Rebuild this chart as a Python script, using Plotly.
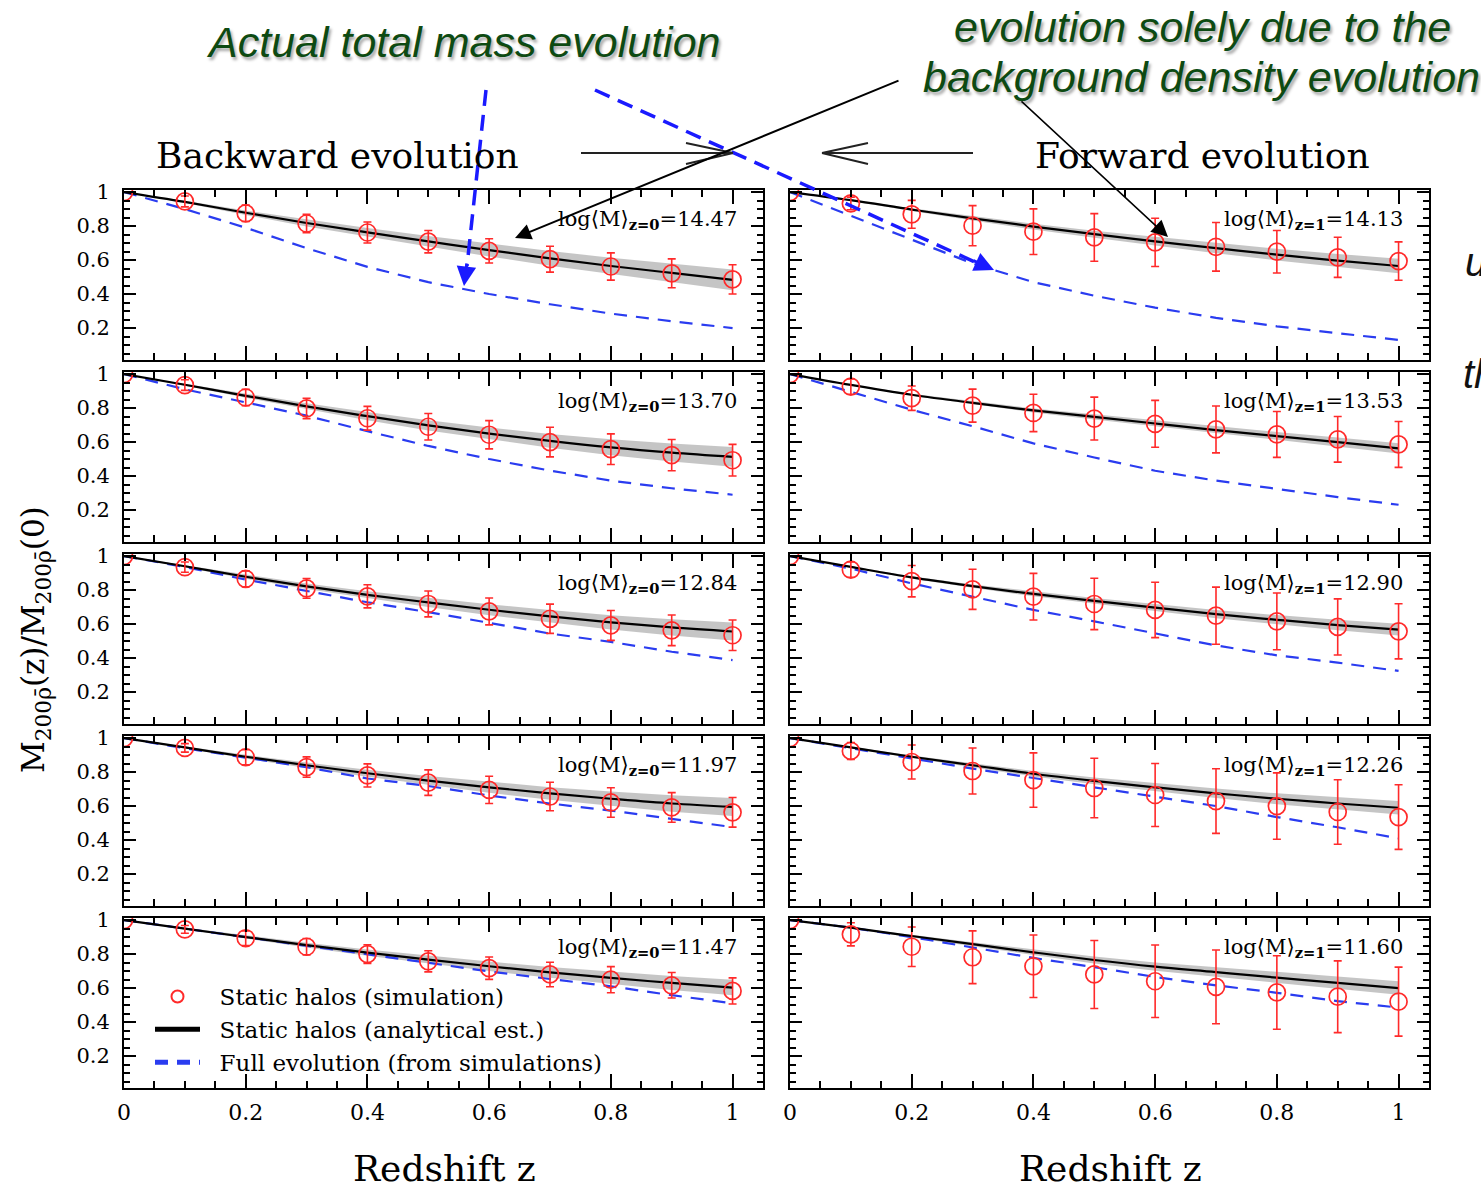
import plotly.graph_objects as go
from plotly.subplots import make_subplots

# ---------------- data ----------------
Z = [0, 0.1, 0.2, 0.3, 0.4, 0.5, 0.6, 0.7, 0.8, 0.9, 1.0]
X_MAJOR_STEP, X_MINOR_STEP = 0.2, 0.05
Y_MAJOR_STEP, Y_MINOR_STEP = 0.2, 0.05

# Backward evolution (left column), log<M>_{z=0}
bw_labels = ["14.47", "13.70", "12.84", "11.97", "11.47"]
bw1_sim = [1, 0.945, 0.875, 0.815, 0.762, 0.708, 0.654, 0.605, 0.562, 0.522, 0.486]
bw1_err = [0, 0.032, 0.048, 0.054, 0.062, 0.066, 0.071, 0.076, 0.080, 0.085, 0.086]
bw1_ana = [1, 0.942, 0.878, 0.818, 0.763, 0.710, 0.658, 0.610, 0.565, 0.524, 0.483]
bw1_band = [0, 0.007, 0.013, 0.020, 0.026, 0.031, 0.037, 0.043, 0.049, 0.055, 0.061]
bw1_full = [1, 0.90, 0.79, 0.67, 0.56, 0.47, 0.40, 0.34, 0.285, 0.24, 0.20]

bw2_sim = [1, 0.935, 0.862, 0.798, 0.740, 0.690, 0.643, 0.600, 0.558, 0.523, 0.493]
bw2_err = [0, 0.031, 0.048, 0.060, 0.070, 0.078, 0.083, 0.087, 0.090, 0.092, 0.093]
bw2_ana = [1, 0.937, 0.872, 0.810, 0.752, 0.698, 0.650, 0.607, 0.569, 0.538, 0.513]
bw2_band = [0, 0.006, 0.012, 0.018, 0.024, 0.030, 0.035, 0.041, 0.047, 0.053, 0.058]
bw2_full = [1, 0.91, 0.833, 0.755, 0.664, 0.577, 0.50, 0.432, 0.373, 0.328, 0.29]

bw3_sim = [1, 0.935, 0.866, 0.810, 0.763, 0.718, 0.674, 0.631, 0.592, 0.563, 0.534]
bw3_err = [0, 0.030, 0.047, 0.058, 0.068, 0.076, 0.079, 0.086, 0.088, 0.090, 0.090]
bw3_ana = [1, 0.940, 0.878, 0.822, 0.772, 0.727, 0.684, 0.645, 0.610, 0.580, 0.556]
bw3_band = [0, 0.005, 0.011, 0.016, 0.021, 0.027, 0.032, 0.037, 0.042, 0.048, 0.053]
bw3_full = [1, 0.935, 0.862, 0.796, 0.728, 0.670, 0.605, 0.544, 0.495, 0.437, 0.388]

bw4_sim = [1, 0.942, 0.887, 0.829, 0.780, 0.738, 0.695, 0.656, 0.621, 0.592, 0.563]
bw4_err = [0, 0.025, 0.045, 0.060, 0.068, 0.075, 0.080, 0.084, 0.087, 0.087, 0.087]
bw4_ana = [1, 0.945, 0.890, 0.840, 0.793, 0.750, 0.710, 0.674, 0.643, 0.615, 0.595]
bw4_band = [0, 0.005, 0.011, 0.016, 0.021, 0.027, 0.032, 0.037, 0.042, 0.048, 0.053]
bw4_full = [1, 0.94, 0.885, 0.828, 0.762, 0.718, 0.662, 0.615, 0.573, 0.524, 0.476]

bw5_sim = [1, 0.945, 0.893, 0.843, 0.800, 0.757, 0.717, 0.680, 0.649, 0.616, 0.583]
bw5_err = [0, 0.023, 0.043, 0.048, 0.055, 0.062, 0.066, 0.072, 0.077, 0.075, 0.077]
bw5_ana = [1, 0.950, 0.900, 0.852, 0.808, 0.767, 0.728, 0.692, 0.660, 0.630, 0.603]
bw5_band = [0, 0.004, 0.009, 0.014, 0.018, 0.023, 0.028, 0.032, 0.037, 0.041, 0.046]
bw5_full = [1, 0.95, 0.90, 0.85, 0.80, 0.75, 0.698, 0.653, 0.61, 0.558, 0.51]

# Forward evolution (right column), log<M>_{z=1}
fw_labels = ["14.13", "13.53", "12.90", "12.26", "11.60"]
fw1_sim = [1, 0.933, 0.869, 0.802, 0.767, 0.733, 0.704, 0.678, 0.649, 0.616, 0.594]
fw1_err = [0, 0.037, 0.082, 0.118, 0.134, 0.140, 0.142, 0.143, 0.125, 0.118, 0.113]
fw1_ana = [1, 0.952, 0.897, 0.845, 0.797, 0.752, 0.710, 0.670, 0.632, 0.597, 0.565]
fw1_band = [0, 0.004, 0.008, 0.013, 0.017, 0.021, 0.026, 0.030, 0.034, 0.039, 0.043]
fw1_full = [1, 0.86, 0.72, 0.58, 0.47, 0.39, 0.32, 0.26, 0.21, 0.17, 0.13]

fw2_sim = [1, 0.926, 0.858, 0.814, 0.771, 0.738, 0.707, 0.674, 0.645, 0.616, 0.586]
fw2_err = [0, 0.045, 0.072, 0.097, 0.110, 0.126, 0.138, 0.138, 0.135, 0.134, 0.135]
fw2_ana = [1, 0.936, 0.878, 0.830, 0.786, 0.748, 0.709, 0.670, 0.635, 0.600, 0.563]
fw2_band = [0, 0.003, 0.006, 0.009, 0.012, 0.015, 0.018, 0.021, 0.024, 0.027, 0.030]
fw2_full = [1, 0.897, 0.79, 0.693, 0.592, 0.509, 0.431, 0.373, 0.324, 0.276, 0.231]

fw3_sim = [1, 0.920, 0.852, 0.804, 0.761, 0.718, 0.683, 0.649, 0.616, 0.583, 0.557]
fw3_err = [0, 0.045, 0.092, 0.118, 0.137, 0.151, 0.163, 0.168, 0.167, 0.165, 0.162]
fw3_ana = [1, 0.936, 0.874, 0.823, 0.777, 0.736, 0.697, 0.658, 0.625, 0.594, 0.567]
fw3_band = [0, 0.003, 0.007, 0.010, 0.014, 0.017, 0.021, 0.024, 0.028, 0.031, 0.035]
fw3_full = [1, 0.926, 0.839, 0.761, 0.683, 0.616, 0.544, 0.474, 0.416, 0.373, 0.324]

fw4_sim = [1, 0.924, 0.859, 0.806, 0.753, 0.706, 0.665, 0.629, 0.600, 0.565, 0.535]
fw4_err = [0, 0.050, 0.100, 0.135, 0.160, 0.175, 0.185, 0.190, 0.195, 0.190, 0.190]
fw4_ana = [1, 0.945, 0.890, 0.840, 0.790, 0.748, 0.710, 0.675, 0.643, 0.615, 0.590]
fw4_band = [0, 0.004, 0.008, 0.012, 0.016, 0.020, 0.024, 0.028, 0.032, 0.036, 0.040]
fw4_full = [1, 0.94, 0.88, 0.82, 0.765, 0.71, 0.655, 0.60, 0.535, 0.475, 0.41]

fw5_sim = [1, 0.916, 0.843, 0.781, 0.728, 0.680, 0.640, 0.607, 0.574, 0.549, 0.520]
fw5_err = [0, 0.068, 0.116, 0.155, 0.184, 0.200, 0.213, 0.217, 0.216, 0.211, 0.203]
fw5_ana = [1, 0.955, 0.906, 0.858, 0.810, 0.765, 0.726, 0.694, 0.661, 0.630, 0.600]
fw5_band = [0, 0.004, 0.008, 0.012, 0.016, 0.020, 0.024, 0.028, 0.032, 0.036, 0.040]
fw5_full = [1, 0.955, 0.90, 0.839, 0.777, 0.723, 0.665, 0.616, 0.572, 0.523, 0.485]

# ---------------- styling ----------------
RED = "#ff2a2a"
BLUE = "#2a3cf0"
ARROW_BLUE = "#1a1aff"
GREEN = "#0d4a12"
BAND = "rgba(150,150,150,0.55)"
SERIF = "DejaVu Serif"
SANS = "Liberation Sans"
NB = "\u00a0\u00a0"

L, T, W, H = 124, 190, 1305, 898


def px(x):
    return (x - L) / W


def py(y):
    return (T + H - y) / H


fig = make_subplots(rows=5, cols=2, horizontal_spacing=27 / W, vertical_spacing=12 / H)

panels = [
    (1, 1, "0", bw_labels[0], bw1_sim, bw1_err, bw1_ana, bw1_band, bw1_full),
    (2, 1, "0", bw_labels[1], bw2_sim, bw2_err, bw2_ana, bw2_band, bw2_full),
    (3, 1, "0", bw_labels[2], bw3_sim, bw3_err, bw3_ana, bw3_band, bw3_full),
    (4, 1, "0", bw_labels[3], bw4_sim, bw4_err, bw4_ana, bw4_band, bw4_full),
    (5, 1, "0", bw_labels[4], bw5_sim, bw5_err, bw5_ana, bw5_band, bw5_full),
    (1, 2, "1", fw_labels[0], fw1_sim, fw1_err, fw1_ana, fw1_band, fw1_full),
    (2, 2, "1", fw_labels[1], fw2_sim, fw2_err, fw2_ana, fw2_band, fw2_full),
    (3, 2, "1", fw_labels[2], fw3_sim, fw3_err, fw3_ana, fw3_band, fw3_full),
    (4, 2, "1", fw_labels[3], fw4_sim, fw4_err, fw4_ana, fw4_band, fw4_full),
    (5, 2, "1", fw_labels[4], fw5_sim, fw5_err, fw5_ana, fw5_band, fw5_full),
]

annotations = []
for (r, c, zsub, lab, sim, err, ana, band, full) in panels:
    show = (r == 5 and c == 1)
    upper = [a + b for a, b in zip(ana, band)]
    lower = [a - b for a, b in zip(ana, band)]
    fig.add_trace(go.Scatter(x=Z + Z[::-1], y=upper + lower[::-1], fill="toself",
                             fillcolor=BAND, line=dict(width=0), mode="lines",
                             hoverinfo="skip", showlegend=False), row=r, col=c)
    fig.add_trace(go.Scatter(x=Z, y=full, mode="lines",
                             line=dict(color=BLUE, width=2.2, dash="13px,9px"),
                             name=NB + "Full evolution (from simulations)",
                             showlegend=show, legendrank=3), row=r, col=c)
    fig.add_trace(go.Scatter(x=Z, y=ana, mode="lines", line=dict(color="black", width=2.2, shape="spline"),
                             name=NB + "Static halos (analytical est.)",
                             showlegend=show, legendrank=2), row=r, col=c)
    fig.add_trace(go.Scatter(x=Z, y=sim, mode="markers",
                             marker=dict(symbol="circle-open", size=17, color=RED, line=dict(width=1.7)),
                             error_y=dict(type="data", array=err, color=RED, thickness=1.6, width=4),
                             name=NB + "Static halos (simulation)",
                             showlegend=show, legendrank=1), row=r, col=c)
    idx = (r - 1) * 2 + c
    sx = "" if idx == 1 else str(idx)
    annotations.append(dict(xref="x" + sx, yref="y" + sx, x=1.01, y=0.835,
                            xanchor="right", yanchor="middle", showarrow=False,
                            text="log⟨M⟩<sub><b>z=" + zsub + "</b></sub>=" + lab,
                            font=dict(family=SERIF, size=21, color="black")))

for r in range(1, 6):
    for c in range(1, 3):
        fig.update_xaxes(range=[0, 1.05], tick0=0, dtick=X_MAJOR_STEP,
                         ticks="inside", ticklen=14, tickwidth=1.6, tickcolor="black",
                         minor=dict(dtick=X_MINOR_STEP, tick0=0, ticks="inside", ticklen=7, tickwidth=1.5,
                                    tickcolor="black", showgrid=False),
                         showline=True, linewidth=2, linecolor="black", mirror="ticks",
                         showgrid=False, zeroline=False, showticklabels=(r == 5),
                         ticklabelstandoff=4,
                         tickfont=dict(family=SERIF, size=22, color="black"), row=r, col=c)
        fig.update_yaxes(range=[0.012, 1.012], tick0=0, dtick=Y_MAJOR_STEP,
                         ticks="inside", ticklen=12, tickwidth=1.6, tickcolor="black",
                         minor=dict(dtick=Y_MINOR_STEP, tick0=0, ticks="inside", ticklen=6, tickwidth=1.5,
                                    tickcolor="black", showgrid=False),
                         showline=True, linewidth=2, linecolor="black", mirror="ticks",
                         showgrid=False, zeroline=False, showticklabels=(c == 1),
                         ticklabelstandoff=8,
                         tickfont=dict(family=SERIF, size=21, color="black"), row=r, col=c)

# ---------------- text ----------------
green_font = dict(family=SANS, size=43, color=GREEN, style="italic",
                  shadow="2px 3px 3px rgba(0,0,0,0.35)")
annotations += [
    dict(xref="paper", yref="paper", x=px(464), y=py(42), text="Actual total mass evolution",
         showarrow=False, xanchor="center", yanchor="middle", font=green_font),
    dict(xref="paper", yref="paper", x=px(1202), y=py(27), text="evolution solely due to the",
         showarrow=False, xanchor="center", yanchor="middle", font=green_font),
    dict(xref="paper", yref="paper", x=px(1201), y=py(77), text="background density evolution",
         showarrow=False, xanchor="center", yanchor="middle", font=green_font),
    dict(xref="paper", yref="paper", x=px(1463), y=py(262), text="u", showarrow=False,
         xanchor="left", yanchor="middle",
         font=dict(family=SANS, size=40, color="#111111", style="italic")),
    dict(xref="paper", yref="paper", x=px(1461), y=py(374), text="th", showarrow=False,
         xanchor="left", yanchor="middle",
         font=dict(family=SANS, size=40, color="#111111", style="italic")),
    dict(xref="paper", yref="paper", x=px(337), y=py(155), text="Backward evolution",
         showarrow=False, xanchor="center", yanchor="middle",
         font=dict(family=SERIF, size=36, color="black")),
    dict(xref="paper", yref="paper", x=px(1202), y=py(155), text="Forward evolution",
         showarrow=False, xanchor="center", yanchor="middle",
         font=dict(family=SERIF, size=36, color="black")),
    dict(xref="paper", yref="paper", x=px(444), y=py(1168), text="Redshift z",
         showarrow=False, xanchor="center", yanchor="middle",
         font=dict(family=SERIF, size=36, color="black")),
    dict(xref="paper", yref="paper", x=px(1110), y=py(1168), text="Redshift z",
         showarrow=False, xanchor="center", yanchor="middle",
         font=dict(family=SERIF, size=36, color="black")),
    dict(xref="paper", yref="paper", x=px(35), y=py(640),
         text="M<sub>200ρ̄</sub>(z)/M<sub>200ρ̄</sub>(0)", textangle=-90,
         showarrow=False, xanchor="center", yanchor="middle",
         font=dict(family=SERIF, size=31, color="black")),
    # black pointer arrows
    dict(xref="paper", yref="paper", x=px(515), y=py(238), ax=900 - 515, ay=80 - 238,
         text="", showarrow=True, arrowhead=2, arrowsize=1.6, arrowwidth=2, arrowcolor="black"),
    dict(xref="paper", yref="paper", x=px(1168), y=py(237), ax=1020 - 1168, ay=100 - 237,
         text="", showarrow=True, arrowhead=2, arrowsize=2.2, arrowwidth=1.5, arrowcolor="black"),
    # blue arrow heads
    dict(xref="paper", yref="paper", x=px(464), y=py(286), ax=3, ay=-24,
         text="", showarrow=True, arrowhead=2, arrowsize=1.3, arrowwidth=3, arrowcolor=ARROW_BLUE),
    dict(xref="paper", yref="paper", x=px(994), y=py(270), ax=-22, ay=-10,
         text="", showarrow=True, arrowhead=2, arrowsize=1.3, arrowwidth=3, arrowcolor=ARROW_BLUE),
]


def seg(x0, y0, x1, y1):
    return f"M {px(x0)} {py(y0)} L {px(x1)} {py(y1)}"


shapes = [
    dict(type="line", xref="paper", yref="paper", x0=px(486), y0=py(90), x1=px(467), y1=py(266),
         line=dict(color=ARROW_BLUE, width=3.5, dash="16px,9px")),
    dict(type="line", xref="paper", yref="paper", x0=px(595), y0=py(90), x1=px(975), y1=py(262),
         line=dict(color=ARROW_BLUE, width=3.5, dash="16px,9px")),
    dict(type="path", xref="paper", yref="paper",
         path=seg(581, 153, 733, 153) + " " + seg(686, 143, 733, 153) + " " + seg(733, 153, 686, 164),
         line=dict(color="#222222", width=2)),
    dict(type="path", xref="paper", yref="paper",
         path=seg(973, 153, 822, 153) + " " + seg(868, 143, 822, 153) + " " + seg(822, 153, 868, 164),
         line=dict(color="#222222", width=2)),
]

fig.update_layout(
    width=1481, height=1187,
    margin=dict(l=L, r=1481 - L - W, t=T, b=1187 - T - H),
    paper_bgcolor="white", plot_bgcolor="white",
    font=dict(family=SERIF, color="black"),
    annotations=annotations, shapes=shapes,
    legend=dict(x=px(150), y=py(975), xanchor="left", yanchor="top",
                bgcolor="rgba(0,0,0,0)", font=dict(family=SERIF, size=23, color="black"),
                itemwidth=45, itemsizing="constant", tracegroupgap=0),
)

fig.write_html("out.html")
